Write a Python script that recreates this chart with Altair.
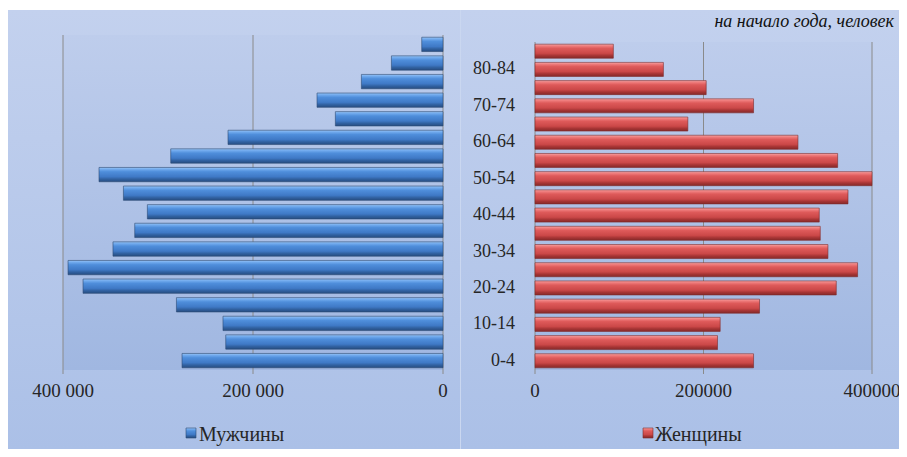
import altair as alt
import pandas as pd

# ---------------- data ----------------
ages = ["0-4", "5-9", "10-14", "15-19", "20-24", "25-29", "30-34", "35-39", "40-44",
        "45-49", "50-54", "55-59", "60-64", "65-69", "70-74", "75-79", "80-84", "85+"]
men = [274700, 228700, 231600, 280600, 378900, 394700, 347400, 324500, 311200,
       336400, 362100, 286600, 226300, 113300, 132600, 85900, 54300, 22400]
women = [259400, 216600, 219800, 266500, 357600, 382900, 347700, 338600, 337400,
         371500, 408000, 359200, 312100, 181400, 259400, 203200, 152400, 93000]
shown_age_labels = ["0-4", "10-14", "20-24", "30-34", "40-44", "50-54", "60-64", "70-74", "80-84"]
left_ticks = [400000, 200000, 0]
left_tick_labels = ["400 000", "200 000", "0"]
right_ticks = [0, 200000, 400000]
right_tick_labels = ["0", "200000", "400000"]
series_names = ["Мужчины", "Женщины"]
subtitle = "на начало года, человек"

# ---------------- layout / style ----------------
W, H = 891, 441
FONT = "Liberation Serif"
TXT = "#262626"
age_order = ages[::-1]  # top to bottom

one = pd.DataFrame({"k": [0]})
df_m = pd.DataFrame({"age": ages, "value": men})
df_w = pd.DataFrame({"age": ages, "value": women})
df_lt = pd.DataFrame({"t": left_ticks, "lab": left_tick_labels})
df_rt = pd.DataFrame({"t": right_ticks, "lab": right_tick_labels})
df_ages = pd.DataFrame({"age": shown_age_labels})

xl = alt.Scale(domain=[0, 400000], range=[435, 55], zero=True, nice=False)
xr = alt.Scale(domain=[0, 400000], range=[527, 864], zero=True, nice=False, clamp=True)
yl = alt.Scale(domain=age_order, range=[27, 362], paddingInner=0.23, paddingOuter=0.12)
yr = alt.Scale(domain=age_order, range=[34, 362], paddingInner=0.23, paddingOuter=0.12)


def grad(stops):
    return alt.Gradient(
        gradient="linear",
        stops=[alt.GradientStop(color=c, offset=o) for o, c in stops],
        x1=0, x2=0, y1=0, y2=1,
    )


bg_grad = grad([(0, "#c3d1ee"), (1, "#abc0e7")])
plot_grad = grad([(0, "#becdec"), (1, "#a0b7e1")])
blue_grad = grad([(0, "#9cc6f5"), (0.12, "#72abee"), (0.3, "#4f8edb"),
                  (0.65, "#3f79c6"), (0.82, "#30609f"), (1, "#274d82")])
red_grad = grad([(0, "#f6a8a8"), (0.12, "#ef7d7d"), (0.3, "#de5a5a"),
                 (0.65, "#cb4848"), (0.82, "#a53434"), (1, "#862a2a")])

bg = alt.Chart(one).mark_rect(color=bg_grad).encode(
    x=alt.value(0), x2=alt.value(W), y=alt.value(2), y2=alt.value(H))
bg_left = alt.Chart(one).mark_rect(color=plot_grad).encode(
    x=alt.value(55), x2=alt.value(435), y=alt.value(27), y2=alt.value(362))
bg_right = alt.Chart(one).mark_rect(color=plot_grad).encode(
    x=alt.value(527), x2=alt.value(864), y=alt.value(34), y2=alt.value(362))
sep = alt.Chart(one).mark_rule(color="#cad7f0", strokeWidth=1).encode(
    x=alt.value(452.5), y=alt.value(2), y2=alt.value(H))

grid_left = alt.Chart(df_lt).mark_rule(color="#8a8a8a", strokeWidth=1).encode(
    x=alt.X("t:Q", scale=xl, axis=None), y=alt.value(27), y2=alt.value(366))
grid_right = alt.Chart(df_rt).mark_rule(color="#8a8a8a", strokeWidth=1).encode(
    x=alt.X("t:Q", scale=xr, axis=None), y=alt.value(34), y2=alt.value(366))

bars_left = alt.Chart(df_m).mark_bar(color=blue_grad, stroke="#2c4a74", strokeWidth=0.6).encode(
    x=alt.X("value:Q", scale=xl, axis=None),
    y=alt.Y("age:N", scale=yl, axis=None))
bars_right = alt.Chart(df_w).mark_bar(color=red_grad, stroke="#7e2a2a", strokeWidth=0.6).encode(
    x=alt.X("value:Q", scale=xr, axis=None),
    y=alt.Y("age:N", scale=yr, axis=None))

tl_left = alt.Chart(df_lt).mark_text(font=FONT, fontSize=19, color=TXT, baseline="middle").encode(
    x=alt.X("t:Q", scale=xl, axis=None), y=alt.value(383), text="lab:N")
tl_right = alt.Chart(df_rt).mark_text(font=FONT, fontSize=19, color=TXT, baseline="middle").encode(
    x=alt.X("t:Q", scale=xr, axis=None), y=alt.value(383), text="lab:N")

age_text = alt.Chart(df_ages).mark_text(font=FONT, fontSize=18, color=TXT, align="right",
                                        baseline="middle").encode(
    x=alt.value(507), y=alt.Y("age:N", scale=yr, axis=None), text="age:N")

leg_sq_m = alt.Chart(one).mark_rect(color=blue_grad, stroke="#2c4a74", strokeWidth=0.6).encode(
    x=alt.value(178), x2=alt.value(188), y=alt.value(420), y2=alt.value(430))
leg_sq_w = alt.Chart(one).mark_rect(color=red_grad, stroke="#7e2a2a", strokeWidth=0.6).encode(
    x=alt.value(635), x2=alt.value(645), y=alt.value(420), y2=alt.value(430))
leg_txt_m = alt.Chart(pd.DataFrame({"s": [series_names[0]]})).mark_text(
    font=FONT, fontSize=20, color=TXT, align="left", baseline="middle").encode(
    x=alt.value(191), y=alt.value(427), text="s:N")
leg_txt_w = alt.Chart(pd.DataFrame({"s": [series_names[1]]})).mark_text(
    font=FONT, fontSize=20, color=TXT, align="left", baseline="middle").encode(
    x=alt.value(647), y=alt.value(427), text="s:N")

title_txt = alt.Chart(pd.DataFrame({"s": [subtitle]})).mark_text(
    font=FONT, fontSize=18, fontStyle="italic", color="#111", align="right",
    baseline="alphabetic").encode(x=alt.value(886), y=alt.value(19), text="s:N")

chart = alt.layer(
    bg, bg_left, bg_right, sep, grid_left, grid_right, bars_left, bars_right,
    tl_left, tl_right, age_text, leg_sq_m, leg_sq_w, leg_txt_m, leg_txt_w, title_txt,
).resolve_scale(
    x="independent", y="independent"
).properties(
    width=W, height=H, padding=0, autosize=alt.AutoSizeParams(type="none")
).configure(background="white").configure_view(stroke=None)

chart.save("out.html", embed_options={"renderer": "svg", "actions": False})
